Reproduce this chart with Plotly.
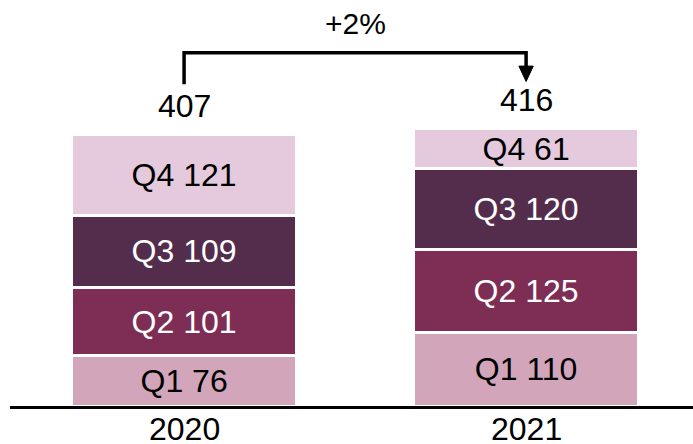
import plotly.graph_objects as go

years = ["2020", "2021"]
quarters = ["Q1", "Q2", "Q3", "Q4"]
q1 = [76, 110]
q2 = [101, 125]
q3 = [109, 120]
q4 = [121, 61]
totals = [407, 416]
change_label = "+2%"

series = [q1, q2, q3, q4]
colors = ["#D3A5BB", "#7E2E55", "#532D4B", "#E4CADC"]
text_colors = ["#000000", "#FFFFFF", "#FFFFFF", "#000000"]

FONT = "Liberation Sans, Arial, sans-serif"
FS = 32

fig = go.Figure()
for name, vals, col, tcol in zip(quarters, series, colors, text_colors):
    fig.add_trace(go.Bar(
        x=years, y=vals, name=name,
        marker=dict(color=col, line=dict(color="white", width=3)),
        width=0.66,
        text=[f"{name} {v}" for v in vals],
        textposition="inside", insidetextanchor="middle",
        textfont=dict(color=tcol, size=FS, family=FONT),
        hoverinfo="skip",
    ))

# totals above bars (category index positions)
for i, t in enumerate(totals):
    fig.add_annotation(x=i, y=t, text=str(t), showarrow=False,
                       yanchor="middle", yshift=28,
                       font=dict(size=FS, family=FONT, color="black"))

# category labels under the axis
for i, yr in enumerate(years):
    fig.add_annotation(x=i, y=0, text=yr, showarrow=False,
                       yanchor="middle", yshift=-23,
                       font=dict(size=FS, family=FONT, color="black"))

# bracket with arrow
top = max(totals) + 113
left_bottom = totals[0] + 75
tip = totals[1] + 70
fig.add_shape(type="path",
              path=f"M 0 {left_bottom} L 0 {top} L 1 {top} L 1 {tip + 20}",
              xref="x", yref="y", line=dict(color="black", width=3.5))
fig.add_shape(type="path",
              path=f"M 0.979 {tip + 23} L 1.021 {tip + 23} L 1 {tip} Z",
              xref="x", yref="y", fillcolor="black", line=dict(color="black", width=1))
fig.add_annotation(x=0.5, y=top, text=change_label, showarrow=False,
                   yanchor="middle", yshift=29, xshift=0,
                   font=dict(size=30, family=FONT, color="black"))

fig.update_layout(
    barmode="stack",
    width=693, height=444,
    margin=dict(l=10, r=0, t=0, b=38),
    paper_bgcolor="white", plot_bgcolor="white",
    showlegend=False,
    uniformtext=dict(minsize=FS, mode="show"),
    font=dict(family=FONT, size=FS, color="black"),
)
fig.update_xaxes(type="category", range=[-0.509, 1.488], automargin=False,
                 showline=True, linecolor="black", linewidth=3,
                 ticks="", showticklabels=False, showgrid=False, zeroline=False)
fig.update_yaxes(range=[0, 608], visible=False, showgrid=False, zeroline=False,
                 automargin=False)

fig.write_html("out.html", config={"displayModeBar": False},
               post_script="document.body.style.margin='0';")
